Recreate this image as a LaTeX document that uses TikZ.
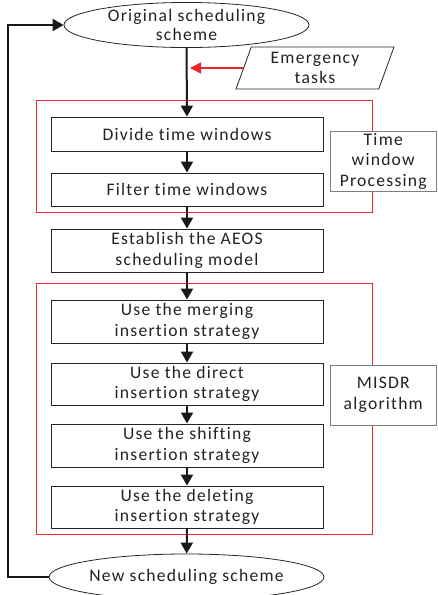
\documentclass[tikz,border=0pt]{standalone}
\usepackage{fontspec}
\setmainfont{Carlito}[LetterSpace=7,Ligatures={NoCommon}]
\usetikzlibrary{shapes.geometric,arrows.meta}
\definecolor{txt}{HTML}{222222}
\definecolor{sidegray}{HTML}{7F7F7F}
\definecolor{redline}{HTML}{E8262B}
\begin{document}
\begin{tikzpicture}[x=1pt,y=-1pt,
  every node/.style={font=\fontsize{17.6}{20.5}\selectfont, text=txt, align=center, inner sep=0pt},
  procbox/.style={draw=black!85, line width=0.9pt, rectangle, minimum width=272pt},
  sidebox/.style={draw=sidegray, line width=0.9pt, fill=white, rectangle, minimum width=106.5pt, minimum height=60pt},
  termin/.style={draw=black!85, line width=0.8pt, ellipse},
  frame/.style={draw=redline, line width=0.9pt, rectangle},
  flow/.style={draw=black!90, line width=2pt, -{Triangle[length=11pt,width=12pt]}},
  redflow/.style={draw=redline, line width=1.4pt, -{Triangle[length=11pt,width=11pt]}}
]
\useasboundingbox (0,0) rectangle (437,595);

% red group frames
\node[frame, minimum width=336pt, minimum height=112pt] (g1) at (204,156) {};
\node[frame, minimum width=336pt, minimum height=251pt] (g2) at (204,408.5) {};

% terminals
\node[termin, minimum width=245pt, minimum height=44pt] (start) at (186.5,25) {Original scheduling\\[-1pt]scheme};
\node[termin, minimum width=251pt, minimum height=46pt] (finish) at (186.5,577) {New scheduling scheme};

% emergency input
\node[trapezium, trapezium left angle=71.6, trapezium right angle=108.4, trapezium stretches=true,
      draw=black!85, line width=0.8pt, minimum width=158pt, minimum height=42pt] (emerg) at (315,68) {Emergency\\tasks};
\coordinate (inj) at (190,68);

% process boxes
\node[procbox, minimum height=34pt] (divide) at (187,134) {Divide time windows};
\node[procbox, minimum height=33pt] (filter) at (187,189.5) {Filter time windows};
\node[procbox, minimum height=43pt] (model) at (187,250.5) {Establish the AEOS\\scheduling model};
\node[procbox, minimum height=43pt] (merge) at (187,321.5) {Use the merging\\insertion strategy};
\node[procbox, minimum height=42pt] (direct) at (187,384) {Use the direct\\insertion strategy};
\node[procbox, minimum height=43pt] (shift) at (187,445.5) {Use the shifting\\insertion strategy};
\node[procbox, minimum height=42pt] (delete) at (187,507) {Use the deleting\\insertion strategy};

% side labels
\node[sidebox] (twp) at (383.25,161) {Time\\window\\Processing};
\node[sidebox] (misdr) at (383.25,395) {MISDR\\algorithm};

% connectors
\draw[flow] (start) -- (divide);
\draw[redflow] (emerg.left side) -- (inj);
\draw[flow] (divide) -- (filter);
\draw[flow] (filter) -- (model);
\draw[flow] (model) -- (merge);
\draw[flow] (merge) -- (direct);
\draw[flow] (direct) -- (shift);
\draw[flow] (shift) -- (delete);
\draw[flow] (delete) -- (finish);
\draw[flow] (finish.west) -| (8,25) -- (start.west);
\end{tikzpicture}
\end{document}
